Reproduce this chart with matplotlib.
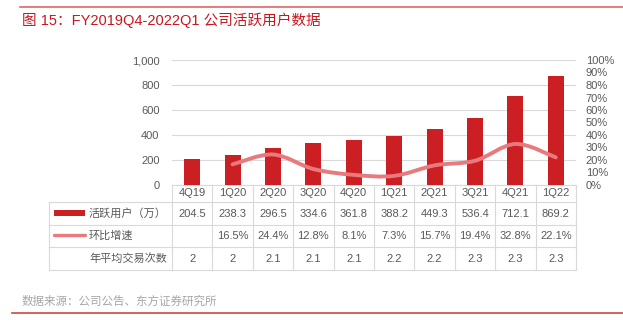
import matplotlib.pyplot as plt
import numpy as np
from matplotlib.path import Path
from matplotlib.patches import PathPatch, Rectangle

plt.rcParams['font.family'] = ['Liberation Sans', 'Noto Sans CJK SC', 'DejaVu Sans']

# data
quarters = ['4Q19', '1Q20', '2Q20', '3Q20', '4Q20', '1Q21', '2Q21', '3Q21', '4Q21', '1Q22']
active_users = [204.5, 238.3, 296.5, 334.6, 361.8, 388.2, 449.3, 536.4, 712.1, 869.2]
qoq_growth = [None, 16.5, 24.4, 12.8, 8.1, 7.3, 15.7, 19.4, 32.8, 22.1]
trade_times = ['2', '2', '2.1', '2.1', '2.1', '2.2', '2.2', '2.3', '2.3', '2.3']
row_labels = ['活跃用户（万）', '环比增速', '年平均交易次数']

bar_color = '#CC1F24'
line_color = '#E8797C'
grid_color = '#D9D9D9'
text_color = '#595959'
title_color = '#C8161D'

W, H = 623, 321
fig = plt.figure(figsize=(W / 100, H / 100), dpi=100)

# pixel layout
px_left, px_right, px_top, px_bottom = 172, 576, 60, 185
ax = fig.add_axes([px_left / W, 1 - px_bottom / H, (px_right - px_left) / W, (px_bottom - px_top) / H])
n = len(quarters)
x = np.arange(n)
ax.bar(x, active_users, width=0.4, color=bar_color, zorder=3)
ax.set_xlim(-0.5, n - 0.5)
ax.set_ylim(0, 1000)
ax.set_yticks(range(0, 1001, 200))
ax.set_yticklabels([f'{v:,}' for v in range(0, 1001, 200)])
ax.yaxis.grid(True, color=grid_color, linewidth=0.8, zorder=0)
ax.set_xticks([])
for s in ['top', 'right', 'left']:
    ax.spines[s].set_visible(False)
ax.spines['bottom'].set_color(grid_color)
ax.spines['bottom'].set_linewidth(0.8)
ax.tick_params(axis='y', length=0, labelsize=8, labelcolor=text_color, pad=9)

ax2 = ax.twinx()
ax2.set_ylim(0, 100)
ax2.set_yticks(range(0, 101, 10))
ax2.set_yticklabels([f'{v}%' for v in range(0, 101, 10)])
ax2.tick_params(axis='y', length=0, labelsize=8, labelcolor=text_color, pad=7)
for s in ax2.spines.values():
    s.set_visible(False)

# smoothed growth line (bezier through the data points)
gx = np.array([i for i, v in enumerate(qoq_growth) if v is not None], dtype=float)
gy = np.array([v for v in qoq_growth if v is not None], dtype=float)
pts = np.column_stack([gx, gy])
verts = [tuple(pts[0])]
codes = [Path.MOVETO]
t = 1 / 6
for i in range(len(pts) - 1):
    p0 = pts[i - 1] if i > 0 else pts[i]
    p1 = pts[i]
    p2 = pts[i + 1]
    p3 = pts[i + 2] if i + 2 < len(pts) else pts[i + 1]
    c1 = p1 + (p2 - p0) * t
    c2 = p2 - (p3 - p1) * t
    verts += [tuple(c1), tuple(c2), tuple(p2)]
    codes += [Path.CURVE4] * 3
ax2.add_patch(PathPatch(Path(verts, codes), facecolor='none', edgecolor=line_color,
                        linewidth=2.8, capstyle='round', joinstyle='round', zorder=4))

# table overlay in pixel coordinates
tab = fig.add_axes([0, 0, 1, 1])
tab.set_xlim(0, W)
tab.set_ylim(H, 0)
tab.axis('off')

col_w = (px_right - px_left) / n
row_edges = [202, 224.5, 247, 270]
tab_left = 49
lc = dict(color=grid_color, linewidth=0.8)

# header row of categories
for i in range(n + 1):
    xe = px_left + i * col_w
    tab.plot([xe, xe], [px_bottom, row_edges[-1]], **lc)
for i, q in enumerate(quarters):
    tab.text(px_left + (i + 0.5) * col_w, 193.5, q, ha='center', va='center',
             fontsize=8, color=text_color)
for y in row_edges:
    tab.plot([tab_left, px_right], [y, y], **lc)
tab.plot([tab_left, tab_left], [row_edges[0], row_edges[-1]], **lc)

row_values = [
    [f'{v:.1f}' for v in active_users],
    ['' if v is None else f'{v:.1f}%' for v in qoq_growth],
    trade_times,
]
for r in range(3):
    yc = (row_edges[r] + row_edges[r + 1]) / 2
    tab.text(89, yc, row_labels[r], ha='left', va='center', fontsize=8, color=text_color)
    for i, v in enumerate(row_values[r]):
        tab.text(px_left + (i + 0.5) * col_w, yc + 0.5, v, ha='center', va='center',
                 fontsize=8, color=text_color)

# legend keys
y1 = (row_edges[0] + row_edges[1]) / 2
tab.add_patch(Rectangle((54, y1 - 3), 31, 5.5, color=bar_color, linewidth=0))
y2 = (row_edges[1] + row_edges[2]) / 2
tab.plot([54, 85], [y2 - 1, y2 - 1], color=line_color, linewidth=2.4, solid_capstyle='round')

# title, decorations and source
tab.plot([20, W], [7, 7], color='#E06666', linewidth=1.2)
tab.text(22, 20, '图 15：FY2019Q4-2022Q1 公司活跃用户数据', ha='left', va='center',
         fontsize=10.5, color=title_color)
tab.text(22, 301.5, '数据来源：公司公告、东方证券研究所', ha='left', va='center',
         fontsize=8.3, color='#A6A6A6')
tab.plot([12, W], [312.5, 312.5], color='#D0453E', linewidth=1.2)

fig.savefig('out.png', dpi=100)
